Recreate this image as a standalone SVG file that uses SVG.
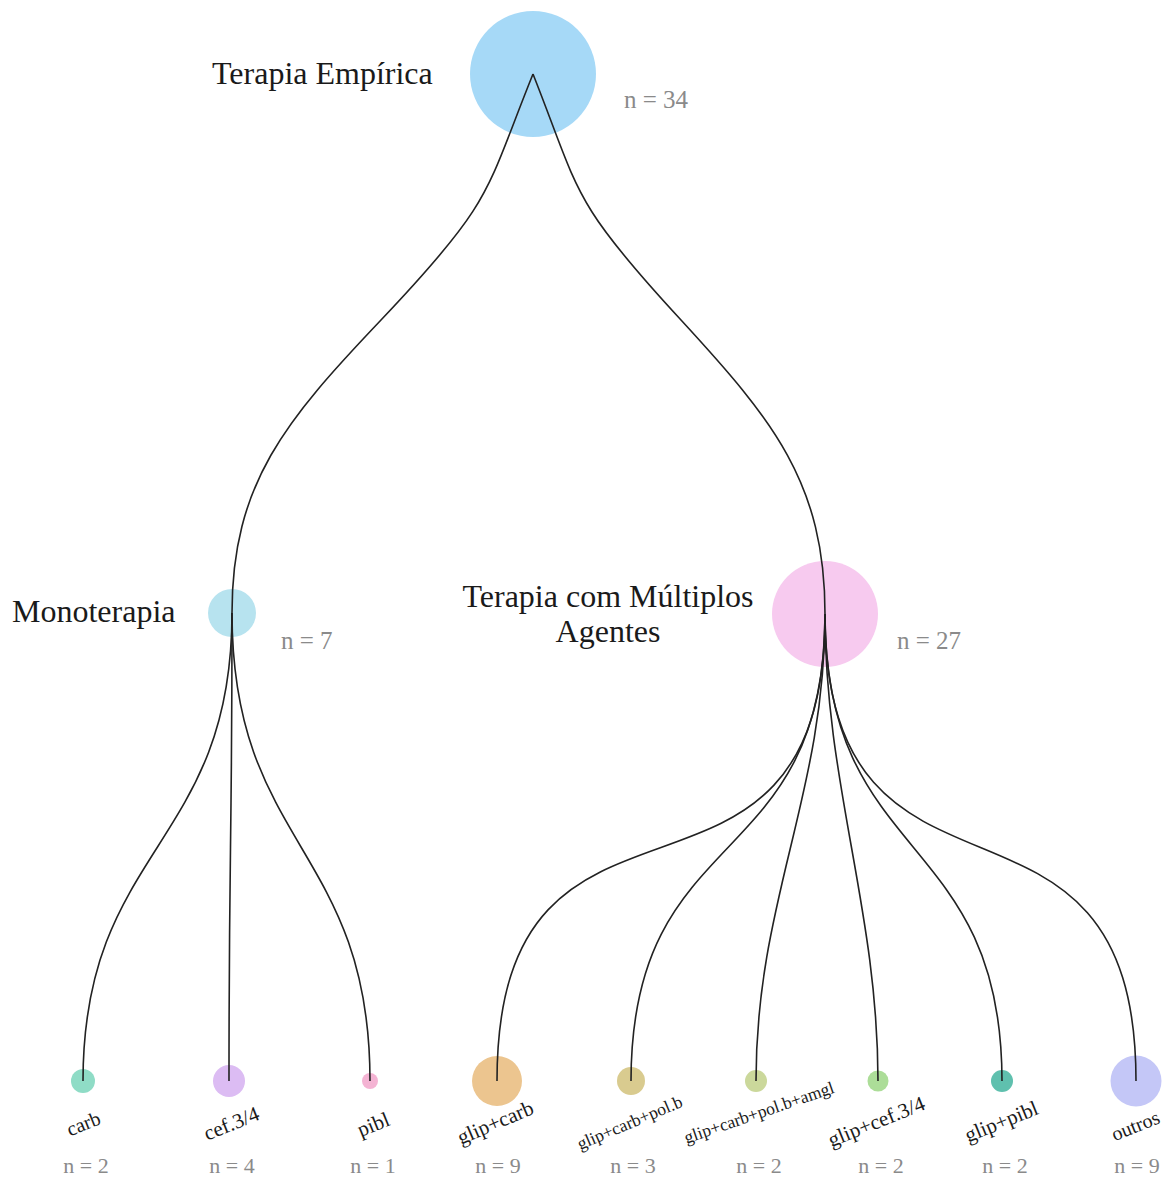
<svg xmlns="http://www.w3.org/2000/svg" width="1171" height="1178" viewBox="0 0 1171 1178">
<style>
.title{font-family:"Liberation Serif","Times New Roman",serif;font-size:32px;fill:#1a1a1a}
.cnt{font-family:"Liberation Serif","Times New Roman",serif;font-size:25px;fill:#8a8a8a}
.ncnt{font-family:"Liberation Serif","Times New Roman",serif;font-size:22px;fill:#8a8a8a;text-anchor:middle}
.leaf{font-family:"Liberation Serif","Times New Roman",serif;fill:#1a1a1a;text-anchor:middle}
.link{fill:none;stroke:#222;stroke-width:1.6}
</style>
<rect width="1171" height="1178" fill="#fff"/>
<g id="node-root">
<circle cx="533" cy="74" r="63" fill="#a6d9f7"/>
<text class="title" x="212" y="84">Terapia Empírica</text>
<text class="cnt" x="624" y="108">n = 34</text>
</g>
<g id="node-mono">
<circle cx="232" cy="613" r="24" fill="#b7e3ef"/>
<text class="title" x="12" y="622">Monoterapia</text>
<text class="cnt" x="281" y="649">n = 7</text>
</g>
<g id="node-multi">
<circle cx="825" cy="614" r="53" fill="#f7caef"/>
<text class="title" x="608" y="607" text-anchor="middle">Terapia com Múltiplos</text>
<text class="title" x="608" y="642" text-anchor="middle">Agentes</text>
<text class="cnt" x="897" y="649">n = 27</text>
</g>
<g id="leaf-carb">
<circle cx="83" cy="1081" r="12" fill="#8fdcc6"/>
<text class="leaf" font-size="20" transform="translate(86 1130) rotate(-22)">carb</text>
<text class="ncnt" x="86" y="1173">n = 2</text>
</g>
<g id="leaf-cef">
<circle cx="229" cy="1081" r="16" fill="#dcbcf3"/>
<text class="leaf" font-size="21" transform="translate(234 1130) rotate(-22)">cef.3/4</text>
<text class="ncnt" x="232" y="1173">n = 4</text>
</g>
<g id="leaf-pibl">
<circle cx="370" cy="1081" r="8" fill="#f4b3d3"/>
<text class="leaf" font-size="21" transform="translate(376 1131) rotate(-22)">pibl</text>
<text class="ncnt" x="373" y="1173">n = 1</text>
</g>
<g id="leaf-glip-carb">
<circle cx="497" cy="1081" r="25" fill="#ecc58f"/>
<text class="leaf" font-size="21" transform="translate(498 1129) rotate(-23)">glip+carb</text>
<text class="ncnt" x="498" y="1173">n = 9</text>
</g>
<g id="leaf-glip-carb-polb">
<circle cx="631" cy="1081" r="14" fill="#d9cb8f"/>
<text class="leaf" font-size="17.5" transform="translate(632 1128) rotate(-23)">glip+carb+pol.b</text>
<text class="ncnt" x="633" y="1173">n = 3</text>
</g>
<g id="leaf-glip-carb-polb-amgl">
<circle cx="756" cy="1081" r="11" fill="#cbd89b"/>
<text class="leaf" font-size="17.5" transform="translate(761 1118) rotate(-19)">glip+carb+pol.b+amgl</text>
<text class="ncnt" x="759" y="1173">n = 2</text>
</g>
<g id="leaf-glip-cef">
<circle cx="878" cy="1081" r="10.5" fill="#acdd98"/>
<text class="leaf" font-size="21" transform="translate(879 1128) rotate(-22)">glip+cef.3/4</text>
<text class="ncnt" x="881" y="1173">n = 2</text>
</g>
<g id="leaf-glip-pibl">
<circle cx="1002" cy="1081" r="11" fill="#5fc0ae"/>
<text class="leaf" font-size="21" transform="translate(1004 1128) rotate(-22)">glip+pibl</text>
<text class="ncnt" x="1005" y="1173">n = 2</text>
</g>
<g id="leaf-outros">
<circle cx="1136" cy="1081" r="25.5" fill="#c4c7f7"/>
<text class="leaf" font-size="20" transform="translate(1138 1132) rotate(-22)">outros</text>
<text class="ncnt" x="1137" y="1173">n = 9</text>
</g>
<g id="connectors">
<path class="link" d="M533,74 C485,193 495,200 381,320 C286,420 232,483 232,613"/>
<path class="link" d="M533,74 C580,193 570,200 681,320 C773,420 825,483 825,614"/>
<path class="link" d="M232,613 C232,847 83,847 83,1081"/>
<path class="link" d="M232,613 C232,847 229,847 229,1081"/>
<path class="link" d="M232,613 C232,847 370,847 370,1081"/>
<path class="link" d="M825,614 C825,964 497,731 497,1081"/>
<path class="link" d="M825,614 C825,877 631,818 631,1081"/>
<path class="link" d="M825,614 C825,796 756,899 756,1081"/>
<path class="link" d="M825,614 C825,785 878,910 878,1081"/>
<path class="link" d="M825,614 C825,866 1002,829 1002,1081"/>
<path class="link" d="M825,614 C825,953 1136,742 1136,1081"/>
</g>
</svg>
